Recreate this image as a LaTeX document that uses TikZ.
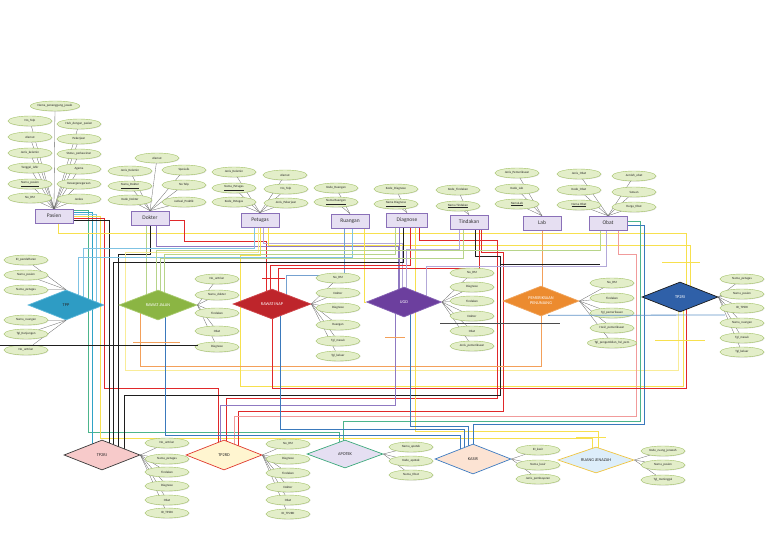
\documentclass[tikz,border=0pt]{standalone}
\usepackage{fontspec}
\setmainfont{Carlito}
\usetikzlibrary{shapes.geometric,backgrounds,shadows}
\definecolor{attrFill}{HTML}{E3EEC9}
\definecolor{attrDraw}{HTML}{A3C266}
\definecolor{entFill}{HTML}{E6DFF2}
\definecolor{entDraw}{HTML}{8A70B8}
\definecolor{cTeal}{HTML}{2FA3C6}
\definecolor{cSky}{HTML}{7FC3E3}
\definecolor{cBlue}{HTML}{3A79BC}
\definecolor{cRed}{HTML}{E0282A}
\definecolor{cPink}{HTML}{F19B9B}
\definecolor{cBlack}{HTML}{1E1E1E}
\definecolor{cYellow}{HTML}{F7E04E}
\definecolor{cLYellow}{HTML}{F9EC98}
\definecolor{cLGreen}{HTML}{B7D48A}
\definecolor{cGreen}{HTML}{4DB58C}
\definecolor{cPurple}{HTML}{8F79C2}
\definecolor{cLav}{HTML}{B3A8D8}
\definecolor{cOrange}{HTML}{F3A05A}
\definecolor{tppFill}{HTML}{2E9CC4}\definecolor{tppDraw}{HTML}{5DB8DA}
\definecolor{rjFill}{HTML}{8BB543}\definecolor{rjDraw}{HTML}{A9CB6E}
\definecolor{riFill}{HTML}{BE252B}\definecolor{riDraw}{HTML}{D0474C}
\definecolor{ugdFill}{HTML}{6C3F9E}\definecolor{ugdDraw}{HTML}{8764B5}
\definecolor{ppFill}{HTML}{EC8B2F}\definecolor{ppDraw}{HTML}{F0A55E}
\definecolor{triFill}{HTML}{2F60A8}\definecolor{triDraw}{HTML}{1A1A1A}
\definecolor{trjFill}{HTML}{F7CACA}\definecolor{trjDraw}{HTML}{3A3A3A}
\definecolor{trdFill}{HTML}{FFF5D0}\definecolor{trdDraw}{HTML}{E0392E}
\definecolor{apFill}{HTML}{E5DFF2}\definecolor{apDraw}{HTML}{3BA97B}
\definecolor{kasFill}{HTML}{FCE3D3}\definecolor{kasDraw}{HTML}{3D7BC1}
\definecolor{jenFill}{HTML}{DDEEFA}\definecolor{jenDraw}{HTML}{F0C540}
\begin{document}
\begin{tikzpicture}[x=1pt,y=-1pt,
  attr/.style={ellipse, draw=attrDraw, line width=0.4pt, fill=attrFill, minimum width=44pt, minimum height=10pt, inner sep=0pt, font=\fontsize{3.2}{3.6}\selectfont, text=black!85, drop shadow={opacity=0.25, shadow xshift=0.5pt, shadow yshift=-0.6pt}},
  ent/.style={rectangle, draw=entDraw, line width=0.6pt, fill=entFill, minimum width=38pt, minimum height=14pt, inner sep=0pt, font=\fontsize{5.5}{6}\selectfont, text=black!80, drop shadow={opacity=0.3, shadow xshift=0.8pt, shadow yshift=-0.8pt}},
  rel/.style={diamond, aspect=2.5, minimum width=76pt, minimum height=30pt, inner sep=0pt, line width=0.7pt, font=\fontsize{4.3}{5}\selectfont, align=center},
  al/.style={draw=black!60, line width=0.3pt},
  cn/.style={line width=0.8pt}]
\useasboundingbox (0,0) rectangle (768,543);

% ---------- entities ----------
\node[ent] (pasien) at (54,216) {Pasien};
\node[ent] (dokter) at (150,218) {Dokter};
\node[ent] (petugas) at (260,220) {Petugas};
\node[ent] (ruangan) at (350,221) {Ruangan};
\node[ent, minimum width=41pt] (diagnose) at (407,220) {Diagnose};
\node[ent] (tindakan) at (469,222) {Tindakan};
\node[ent] (lab) at (542,223) {Lab};
\node[ent] (obat) at (608,223) {Obat};

% Pasien attributes
\node[attr] (pa1) at (55,106) {Nama\_penanggung\_jawab};
\node[attr] (pa2) at (30,121) {No\_Telp};
\node[attr] (pa3) at (30,137) {Alamat};
\node[attr] (pa4) at (30,153) {Jenis\_kelamin};
\node[attr] (pa5) at (30,168) {Tanggal\_lahir};
\node[attr] (pa6) at (30,184) {\underline{Nama\_pasien}};
\node[attr] (pa7) at (30,198) {No\_RM};
\node[attr] (pa8) at (79,124) {Hub\_dengan\_pasien};
\node[attr] (pa9) at (79,139) {Pekerjaan};
\node[attr] (pa10) at (79,154) {Status\_perkawinan};
\node[attr] (pa11) at (79,169) {Agama};
\node[attr] (pa12) at (79,184) {Kewarganegaraan};
\node[attr] (pa13) at (79,199) {Jenkes};
% Dokter attributes
\node[attr] (da1) at (157,158) {Alamat};
\node[attr] (da2) at (130,171) {Jenis\_Kelamin};
\node[attr] (da3) at (184,170) {Spesialis};
\node[attr] (da4) at (130,186) {\underline{Nama\_Dokter}};
\node[attr] (da5) at (184,185) {No Telp};
\node[attr] (da6) at (130,200) {Kode\_Dokter};
\node[attr] (da7) at (184,202) {Jadwal\_Praktik};
% Petugas attributes
\node[attr] (pe1) at (234,172) {Jenis\_Kelamin};
\node[attr] (pe2) at (285,175) {Alamat};
\node[attr] (pe3) at (234,188) {\underline{Nama\_Petugas}};
\node[attr] (pe4) at (286,189) {No\_Telp};
\node[attr] (pe5) at (234,202) {Kode\_Petugas};
\node[attr] (pe6) at (286,203) {Jenis\_Pekerjaan};
% Ruangan, Diagnose, Tindakan
\node[attr] (ru1) at (336,188) {Kode\_Ruangan};
\node[attr] (ru2) at (336,202) {\underline{Nama Ruangan}};
\node[attr] (dg1) at (396,189) {Kode\_Diagnose};
\node[attr] (dg2) at (396,204) {\underline{Nama Diagnose}};
\node[attr] (td1) at (458,190) {Kode\_Tindakan};
\node[attr] (td2) at (458,206) {\underline{Nama Tindakan}};
% Lab, Obat
\node[attr] (lb1) at (517,173) {Jenis\_Pemeriksaan};
\node[attr] (lb2) at (517,189) {Kode\_Lab};
\node[attr] (lb3) at (517,204) {\underline{NamaLab}};
\node[attr] (ob1) at (579,174) {Jenis\_Obat};
\node[attr] (ob2) at (579,190) {Kode\_Obat};
\node[attr] (ob3) at (579,205) {\underline{Nama Obat}};
\node[attr] (ob4) at (634,176) {Jumlah\_obat};
\node[attr] (ob5) at (634,192) {Satuan};
\node[attr] (ob6) at (634,207) {Harga\_Obat};

% ---------- relationships ----------
\node[rel, fill=tppFill, draw=tppDraw, text=black!85] (tpp) at (66,305) {TPP};
\node[rel, fill=rjFill, draw=rjDraw, text=white, minimum width=78pt] (rj) at (158,305) {RAWAT JALAN};
\node[rel, fill=riFill, draw=riDraw, text=white, minimum width=78pt] (ri) at (272,304) {RAWAT INAP};
\node[rel, fill=ugdFill, draw=ugdDraw, text=white, minimum width=75pt] (ugd) at (404,302) {UGD};
\node[rel, fill=ppFill, draw=ppDraw, text=white] (pp) at (541,301) {PEMERIKSAAN\\PENUNJANG};
\node[rel, fill=triFill, draw=triDraw, text=white] (tp2ri) at (680,297) {TP2RI};
\node[rel, fill=trjFill, draw=trjDraw, text=black!85] (tp2rj) at (102,455) {TP2RJ};
\node[rel, fill=trdFill, draw=trdDraw, text=black!85] (tp2rd) at (224,455) {TP2RD};
\node[rel, fill=apFill, draw=apDraw, text=black!85, minimum height=28pt] (apotek) at (345,454) {APOTEK};
\node[rel, fill=kasFill, draw=kasDraw, text=black!85] (kasir) at (473,459) {KASIR};
\node[rel, fill=jenFill, draw=jenDraw, text=black!85, minimum height=26pt] (jenazah) at (596,460) {RUANG JENAZAH};

% relationship attributes
\node[attr] (tp1) at (26,260) {ID\_pendaftaran};
\node[attr] (tp2) at (26,275) {Nama\_pasien};
\node[attr] (tp3) at (26,290) {Nama\_petugas};
\node[attr] (tp4) at (26,320) {Nama\_ruangan};
\node[attr] (tp5) at (26,334) {Tgl\_Kunjungan};
\node[attr] (tp6) at (26,350) {No\_antrian};

\node[attr] (rj1) at (217,279) {No\_antrian};
\node[attr] (rj2) at (217,295) {Nama\_dokter};
\node[attr] (rj3) at (217,313) {Tindakan};
\node[attr] (rj4) at (217,331) {Obat};
\node[attr] (rj5) at (217,347) {Diagnose};

\node[attr] (ri1) at (338,278) {No\_RM};
\node[attr] (ri2) at (338,293) {Dokter};
\node[attr] (ri3) at (338,308) {Diagnose};
\node[attr] (ri4) at (338,325) {Ruangan};
\node[attr] (ri5) at (338,341) {Tgl\_masuk};
\node[attr] (ri6) at (338,356) {Tgl\_keluar};

\node[attr] (ug1) at (472,273) {No\_RM};
\node[attr] (ug2) at (472,287) {Diagnose};
\node[attr] (ug3) at (472,301) {Tindakan};
\node[attr] (ug4) at (472,316) {Dokter};
\node[attr] (ug5) at (472,331) {Obat};
\node[attr] (ug6) at (472,346) {Jenis\_pemeriksaan};

\node[attr] (pp1) at (612,283) {No\_RM};
\node[attr] (pp2) at (612,298) {Tindakan};
\node[attr] (pp3) at (612,313) {Tgl\_pemeriksaan};
\node[attr] (pp4) at (612,328) {Hasil\_pemeriksaan};
\node[attr] (pp5) at (612,343) {Tgl\_pengambilan\_hsl\_pem};

\node[attr] (tr1) at (742,279) {Nama\_petugas};
\node[attr] (tr2) at (742,294) {Nama\_pasien};
\node[attr] (tr3) at (742,308) {ID\_TP2RI};
\node[attr] (tr4) at (742,323) {Nama\_ruangan};
\node[attr] (tr5) at (742,338) {Tgl\_masuk};
\node[attr] (tr6) at (742,352) {Tgl\_keluar};

\node[attr] (tj1) at (167,443) {No\_antrian};
\node[attr] (tj2) at (167,459) {Nama\_petugas};
\node[attr] (tj3) at (167,472) {Tindakan};
\node[attr] (tj4) at (167,486) {Diagnose};
\node[attr] (tj5) at (167,500) {Obat};
\node[attr] (tj6) at (167,513) {ID\_TP2RJ};

\node[attr] (tdd1) at (288,444) {No\_RM};
\node[attr] (tdd2) at (288,459) {Diagnose};
\node[attr] (tdd3) at (288,473) {Tindakan};
\node[attr] (tdd4) at (288,487) {Dokter};
\node[attr] (tdd5) at (288,500) {Obat};
\node[attr] (tdd6) at (288,514) {ID\_TP2RD};

\node[attr] (ap1) at (411,447) {Nama\_apotek};
\node[attr] (ap2) at (411,461) {Kode\_apotek};
\node[attr] (ap3) at (411,475) {Nama\_Obat};

\node[attr] (ks1) at (538,450) {ID\_kasir};
\node[attr] (ks2) at (538,465) {Nama\_kasir};
\node[attr] (ks3) at (538,479) {Jenis\_pembayaran};

\node[attr] (jz1) at (663,451) {Kode\_ruang\_jenazah};
\node[attr] (jz2) at (663,465) {Nama\_pasien};
\node[attr] (jz3) at (663,480) {Tgl\_meninggal};

% ---------- background: attribute lines and connectors ----------
\begin{scope}[on background layer]
\fill[white] (0,0) rectangle (768,543);
\foreach \i in {1,...,13} \draw[al] (pa\i) -- (pasien.north);
\foreach \i in {1,...,7} \draw[al] (da\i) -- (dokter.north);
\foreach \i in {1,...,6} \draw[al] (pe\i) -- (petugas.north);
\foreach \i in {1,2} {\draw[al] (ru\i) -- (ruangan.north); \draw[al] (dg\i) -- (diagnose.north); \draw[al] (td\i) -- (tindakan.north);}
\foreach \i in {1,2,3} \draw[al] (lb\i) -- (lab.north);
\foreach \i in {1,...,6} \draw[al] (ob\i) -- (obat.north);
\foreach \i in {1,2,3} \draw[al] (tp\i) -- (tpp.north);
\foreach \i in {4,5,6} \draw[al] (tp\i) -- (tpp.south);
\foreach \i in {1,...,5} \draw[al] (rj\i) -- (rj.east);
\foreach \i in {1,...,6} {\draw[al] (ri\i) -- (ri.east); \draw[al] (ug\i) -- (ugd.east); \draw[al] (tr\i) -- (tp2ri.east); \draw[al] (tj\i) -- (tp2rj.east); \draw[al] (tdd\i) -- (tp2rd.east);}
\foreach \i in {1,...,5} \draw[al] (pp\i) -- (pp.east);
\foreach \i in {1,2,3} {\draw[al] (ap\i) -- (apotek.east); \draw[al] (ks\i) -- (kasir.east); \draw[al] (jz\i) -- (jenazah.east);}

% Pasien
\draw[cn,cGreen] ([yshift=6]pasien.east) -| (88,432) -| ([xshift=-6]apotek.center);
\draw[cn,cTeal] ([yshift=4]pasien.east) -| ([xshift=-10]tp2rj.center);
\draw[cn,cSky] ([yshift=2]pasien.east) -| ([xshift=30]tpp.center);
\draw[cn,cYellow] (pasien.east) -| (100,438) -| ([xshift=-4]jenazah.center);
\draw[cn,cRed] ([yshift=-2]pasien.east) -| (104,388) -| ([xshift=-6]tp2rd.center);
\draw[cn,cBlack] ([yshift=-4]pasien.east) -| ([xshift=7]tp2rj.center);
\draw[cn,cYellow] ([xshift=4]pasien.south) |- (686,233) -- ([xshift=6]tp2ri.center);
% Dokter
\draw[cn,cBlack] (dokter.south) |- (118,254) -| ([xshift=16]tp2rj.center);
\draw[cn,cLGreen] ([xshift=-4]dokter.south) -- ([xshift=-12]rj.center);
\draw[cn,cRed] ([yshift=-2]dokter.east) -| (184,241) -| ([xshift=-6]ri.center);
\draw[cn,cPurple] ([xshift=6]dokter.south) |- (398,246) -- ([xshift=-6]ugd.center);
% Petugas
\draw[cn,cSky] ([xshift=-6]petugas.south) |- (83,248) -- ([xshift=17]tpp.center);
\draw[cn,cLav] ([xshift=3]petugas.south) |- (402,243) -- ([xshift=-2]ugd.center);
\draw[cn,cYellow] ([xshift=8]petugas.south) |- (690,245) -- ([xshift=10]tp2ri.center);
\draw[cn,cLYellow] ([xshift=-2]tp2ri.center) |- (125,370) -- (125,252) -| ([xshift=-2]petugas.south);
\draw[cn,cYellow] ([xshift=3]tp2ri.center) |- (240,386) -- (240,255) -| (petugas.south);
% Ruangan
\draw[cn,cSky] ([xshift=2]ruangan.south) |- (78,257) -- ([xshift=12]tpp.center);
\draw[cn,cBlue!70] ([xshift=-6]ruangan.south) |- (286,275) -- ([xshift=14]ri.center);
\draw[cn,cYellow] ([xshift=14]ruangan.south) |- (ugd.west);
% Diagnose
\draw[cn,cBlack] ([xshift=-4]diagnose.south) |- (113,262) -| ([xshift=11]tp2rj.center);
\draw[cn,cPurple] ([xshift=-8]diagnose.south) -- ([xshift=-5]ugd.center);
\draw[cn,cRed] ([xshift=3]diagnose.south) |- (270,265) -- ([xshift=-2]ri.center);
\draw[cn,cRed] ([xshift=12]diagnose.south) |- (497,240) -- (497,398) -| ([xshift=2]tp2rd.center);
\draw[cn,cLGreen] ([xshift=-12]diagnose.south) |- (164,254) -- ([xshift=6]rj.center);
\draw[cn,cYellow] ([xshift=8]diagnose.south) |- (598,431) -- ([xshift=2]jenazah.center);
% Tindakan
\draw[cn,cBlack] ([xshift=6]tindakan.south) |- (500,256) -- (500,395) -| ([xshift=22]tp2rj.center);
\draw[cn,cRed] ([xshift=12]tindakan.south) |- (503,252) -- (503,411) -| ([xshift=14]tp2rd.center);
\draw[cn,cRed] ([xshift=10]tindakan.south) |- (278,268) -- ([xshift=6]ri.center);
\draw[cn,cLGreen] ([xshift=-6]tindakan.south) |- (160,258) -- ([xshift=2]rj.center);
\draw[cn,cLav] ([xshift=-10]tindakan.south) |- (406,249) -- ([xshift=2]ugd.center);
% Lab
\draw[cn,cOrange] (lab.south) -- (lab.south |- pp.center);
% Obat
\draw[cn,cGreen] ([yshift=2]obat.east) -| (640,421) -| ([xshift=-2]apotek.center);
\draw[cn,cBlue] ([yshift=-2]obat.east) -| (644,424) -| (kasir.center);
\draw[cn,cPink] ([xshift=10]obat.south) |- (636,254) -- (636,416) -| ([xshift=10]tp2rd.center);
\draw[cn,cLav] ([xshift=-2]obat.south) |- (426,266) -- ([xshift=22]ugd.center);
\draw[cn,cLGreen] ([xshift=-8]obat.south) |- (156,250) -- ([xshift=-2]rj.center);
% relationship to relationship
\draw[cn,cOrange] (pp.south) |- (140,366) -- ([xshift=-18]rj.center);
\draw[cn,cRed] (ri.center) |- (686,388) -- ([xshift=6]tp2ri.center);
\draw[cn,cPurple] ([xshift=-9]ugd.center) |- (220,405) -- ([xshift=-4]tp2rd.center);
\draw[cn,cBlue] ([xshift=6]ugd.center) |- (468,426) -- ([xshift=-5]kasir.center);
\draw[cn,cBlue] ([xshift=8]ri.center) |- (464,429) -- ([xshift=-9]kasir.center);
\draw[cn,cBlue] ([xshift=7]rj.center) |- (460,435) -- ([xshift=-13]kasir.center);
\end{scope}

% ---------- lines drawn over the nodes ----------
\coordinate (fa1) at (0,345);   \coordinate (fa2) at (198,345);
\coordinate (fb1) at (440,323); \coordinate (fb2) at (560,323);
\coordinate (fc1) at (500,264); \coordinate (fc2) at (600,264);
\coordinate (fd2) at (725,315);
\draw[cn,cBlack] (fa1) -- (fa2);
\draw[cn,cBlack!80] (fb1) -- (fb2);
\draw[cn,cBlack] (fc1) -- (fc2);
\draw[cn,cBlue!80] ([xshift=7,yshift=1]pp.south) -- (fd2);
% cross marks
\coordinate (xm1) at (262,278); \coordinate (xm2) at (285,278);
\coordinate (xm3) at (133,342); \coordinate (xm4) at (180,342);
\coordinate (xm5) at (385,337); \coordinate (xm6) at (405,337);
\coordinate (xm7) at (662,262); \coordinate (xm8) at (700,262);
\coordinate (xm9) at (576,437); \coordinate (xm10) at (606,437);
\coordinate (xm11) at (655,340); \coordinate (xm12) at (705,340);
\draw[cn,cRed] (xm1) -- (xm2);
\draw[cn,cOrange] (xm3) -- (xm4);
\draw[cn,cOrange] (xm5) -- (xm6);
\draw[cn,cYellow] (xm7) -- (xm8);
\draw[cn,cYellow] (xm9) -- (xm10);
\draw[cn,cYellow] (xm11) -- (xm12);
\end{tikzpicture}
\end{document}
